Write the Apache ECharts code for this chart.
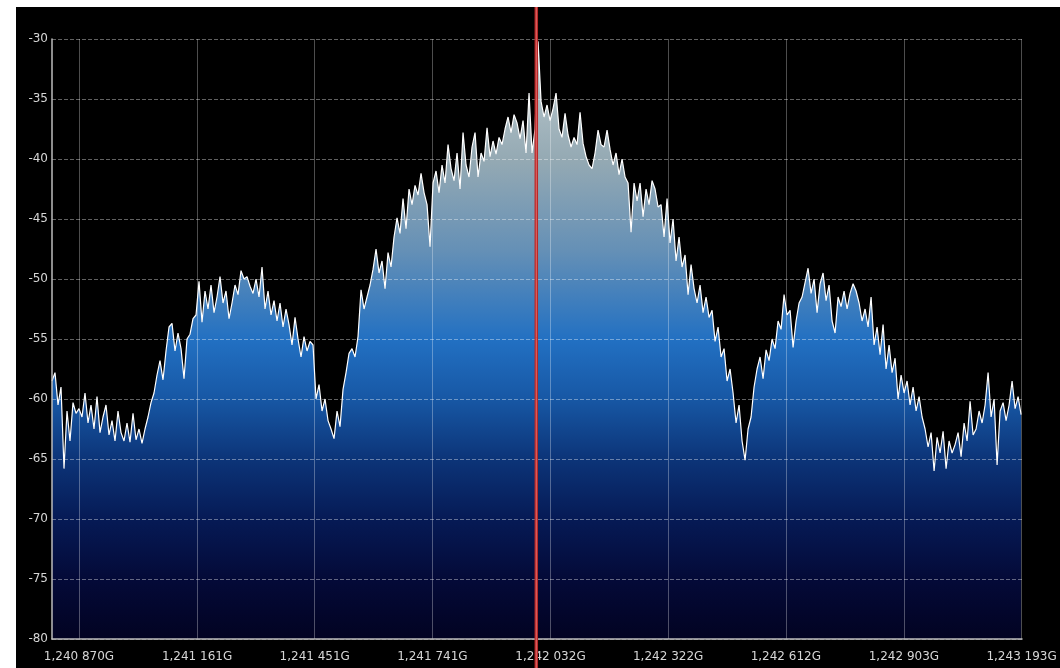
<!DOCTYPE html>
<html>
<head>
<meta charset="utf-8">
<script src="https://cdn.jsdelivr.net/npm/echarts@6/dist/echarts.min.js"></script>
<style>
  html, body { margin: 0; padding: 0; background: #ffffff; }
  #chart { position: absolute; left: 16px; top: 7px; width: 1044px; height: 661px; background: #000; }
</style>
</head>
<body>
<div id="chart"></div>
<script>
// Spectrum levels (dBm), one sample per bin
const levels = [
  -58.5, -57.8, -60.5, -59.0, -65.8, -61.0, -63.5, -60.3, -61.2, -60.8,
  -61.5, -59.5, -62.0, -60.5, -62.5, -59.8, -62.8, -61.5, -60.5, -63.0,
  -61.8, -63.5, -61.0, -62.8, -63.5, -62.0, -63.6, -61.2, -63.4, -62.5,
  -63.7, -62.5, -61.5, -60.3, -59.5, -58.0, -56.8, -58.4, -56.0, -54.0,
  -53.7, -56.0, -54.5, -55.8, -58.3, -55.0, -54.6, -53.3, -53.0, -50.2,
  -53.6, -51.0, -52.5, -50.5, -52.8, -51.5, -49.8, -52.0, -51.0, -53.3,
  -52.0, -50.5, -51.3, -49.3, -50.0, -49.8, -50.6, -51.2, -50.0, -51.5,
  -49.0, -52.5, -51.0, -53.0, -51.8, -53.5, -52.0, -54.0, -52.5, -53.8,
  -55.5, -53.2, -55.0, -56.5, -54.8, -56.0, -55.2, -55.5, -60.0, -58.8,
  -61.0, -60.0, -61.8, -62.5, -63.3, -61.0, -62.3, -59.2, -57.8, -56.2,
  -55.8, -56.5, -54.8, -50.9, -52.5, -51.5, -50.5, -49.2, -47.5, -49.5,
  -48.5, -50.8, -47.8, -49.0, -46.5, -44.9, -46.2, -43.3, -45.8, -42.5,
  -43.8, -42.2, -43.0, -41.2, -42.8, -43.8, -47.3, -42.0, -41.0, -42.8,
  -40.5, -42.0, -38.8, -40.8, -41.8, -39.5, -42.5, -37.8, -40.5, -41.5,
  -39.0, -37.8, -41.5, -39.5, -40.2, -37.4, -39.8, -38.5, -39.6, -38.2,
  -38.8, -37.5, -36.5, -37.8, -36.3, -37.0, -38.3, -36.8, -39.5, -34.5,
  -39.5, -37.5, -30.2, -35.2, -36.5, -35.5, -36.8, -35.8, -34.5, -37.5,
  -38.2, -36.2, -38.0, -39.0, -38.2, -38.8, -36.1, -38.7, -39.8, -40.5,
  -40.8, -39.5, -37.6, -38.8, -39.0, -37.6, -39.2, -40.5, -39.5, -41.3,
  -40.0, -41.5, -42.0, -46.1, -42.0, -43.5, -42.0, -44.8, -42.5, -43.8,
  -41.8, -42.5, -44.0, -43.8, -46.5, -43.3, -47.0, -45.0, -48.5, -46.5,
  -49.0, -48.0, -51.3, -48.8, -50.8, -52.0, -50.5, -52.8, -51.5, -53.2,
  -52.6, -55.2, -54.0, -56.5, -55.8, -58.5, -57.5, -59.5, -62.0, -60.5,
  -63.5, -65.1, -62.5, -61.5, -59.0, -57.5, -56.5, -58.3, -55.9, -56.8,
  -55.0, -55.8, -53.5, -54.2, -51.3, -53.0, -52.6, -55.7, -53.5, -52.0,
  -51.5, -50.3, -49.1, -51.2, -50.0, -52.8, -50.4, -49.5, -51.8, -50.5,
  -53.5, -54.5, -51.5, -52.3, -51.0, -52.5, -51.2, -50.4, -51.0, -52.0,
  -53.5, -52.5, -54.0, -51.5, -55.5, -54.0, -56.3, -53.8, -57.5, -55.5,
  -57.8, -56.6, -60.0, -58.0, -59.5, -58.5, -60.5, -59.0, -61.0, -59.8,
  -61.5, -62.5, -64.0, -62.8, -66.0, -63.2, -64.5, -62.7, -65.8, -63.5,
  -64.5, -63.8, -62.8, -64.8, -62.0, -63.5, -60.2, -63.0, -62.5, -61.0,
  -62.0, -60.5, -57.8, -61.5, -60.0, -65.5, -61.0, -60.3, -61.8, -60.5,
  -58.5, -60.8, -59.8, -61.3
];
// Frequency span (MHz) and bin width
const freqMin = 1240.8035;
const freqMax = 1243.194;
const binWidth = 0.007394;
// Tick positions and their labels
const tickFreqs = [1240.870, 1241.161, 1241.451, 1241.741, 1242.032, 1242.322, 1242.612, 1242.903, 1243.193];
const tickLabels = ['1,240 870G', '1,241 161G', '1,241 451G', '1,241 741G', '1,242 032G', '1,242 322G', '1,242 612G', '1,242 903G', '1,243 193G'];
const markerFreq = 1241.997;

const data = levels.map((v, i) => [freqMin + i * binWidth, v]);

const chart = echarts.init(document.getElementById('chart'), null, { renderer: 'canvas' });
const labelFont = { color: '#d6d6d6', fontFamily: 'DejaVu Sans', fontSize: 12 };

chart.setOption({
  animation: false,
  backgroundColor: '#000000',
  grid: { left: 36, right: 38, top: 32, bottom: 29, containLabel: false },
  xAxis: {
    type: 'value',
    min: freqMin,
    max: freqMax,
    z: 3,
    axisLine: { show: true, onZero: false, lineStyle: { color: '#bdbdbd', width: 1.5 } },
    axisTick: { show: false, customValues: tickFreqs },
    axisLabel: Object.assign({
      customValues: tickFreqs,
      margin: 12,
      formatter: function (v) {
        let best = 0;
        for (let k = 1; k < tickFreqs.length; k++) {
          if (Math.abs(tickFreqs[k] - v) < Math.abs(tickFreqs[best] - v)) best = k;
        }
        return tickLabels[best];
      }
    }, labelFont),
    splitLine: { show: true, lineStyle: { color: 'rgba(255,255,255,0.3)', width: 1 } }
  },
  yAxis: {
    type: 'value',
    min: -80,
    max: -30,
    interval: 5,
    z: 3,
    axisLine: { show: true, lineStyle: { color: '#bdbdbd', width: 1.5 } },
    axisTick: { show: false },
    axisLabel: Object.assign({ margin: 4 }, labelFont),
    splitLine: { show: true, lineStyle: { color: 'rgba(255,255,255,0.38)', width: 1, type: [4, 2] } }
  },
  series: [{
    type: 'line',
    data: data,
    symbol: 'none',
    z: 2,
    lineStyle: { color: '#ffffff', width: 1.2 },
    areaStyle: {
      origin: 'start',
      opacity: 1,
      color: new echarts.graphic.LinearGradient(0, 0, 0, 1, [
        { offset: 0.0, color: '#c2ced2' },
        { offset: 0.2, color: '#94a9b3' },
        { offset: 0.35, color: '#6590b6' },
        { offset: 0.5, color: '#2270c2' },
        { offset: 0.6, color: '#1757a4' },
        { offset: 0.7, color: '#0c3478' },
        { offset: 0.8, color: '#061a55' },
        { offset: 0.9, color: '#040a38' },
        { offset: 1.0, color: '#020322' }
      ])
    }
  }]
});

const px = chart.convertToPixel({ xAxisIndex: 0 }, markerFreq);
const h = chart.getHeight();
chart.setOption({
  graphic: [
    { type: 'line', z: 100, shape: { x1: px, y1: 0, x2: px, y2: h }, style: { stroke: '#b82828', lineWidth: 3.5 } },
    { type: 'line', z: 101, shape: { x1: px, y1: 0, x2: px, y2: h }, style: { stroke: '#e06a6a', lineWidth: 1 } }
  ]
});
</script>
</body>
</html>
